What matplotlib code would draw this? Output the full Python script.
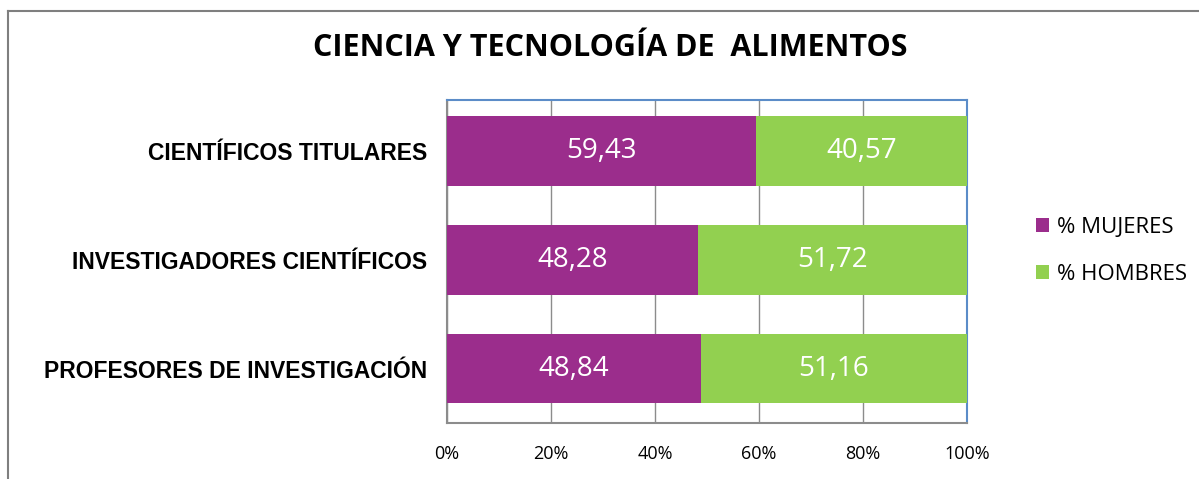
import matplotlib
matplotlib.use("Agg")
import matplotlib.pyplot as plt

categories = ["PROFESORES DE INVESTIGACIÓN", "INVESTIGADORES CIENTÍFICOS", "CIENTÍFICOS TITULARES"]
mujeres = [48.84, 48.28, 59.43]
hombres = [51.16, 51.72, 40.57]
series_names = ["% MUJERES", "% HOMBRES"]
xticks = [0, 20, 40, 60, 80, 100]
xtick_labels = ["0%", "20%", "40%", "60%", "80%", "100%"]
title = "CIENCIA Y TECNOLOGÍA DE  ALIMENTOS"

c_muj = "#9B2D8C"
c_hom = "#92D050"

fig = plt.figure(figsize=(11.99, 4.79), dpi=100)
ax = fig.add_axes([447/1199, 1-423/479, (967-447)/1199, (423-100)/479])

y = list(range(len(categories)))
b1 = ax.barh(y, mujeres, height=0.64, color=c_muj, label=series_names[0], zorder=3)
b2 = ax.barh(y, hombres, left=mujeres, height=0.64, color=c_hom, label=series_names[1], zorder=3)

for i in y:
    ax.text(mujeres[i]/2, i, f"{mujeres[i]:.2f}".replace(".", ","), ha="center", va="center",
            color="white", fontsize=20, family="Open Sans", zorder=4)
    ax.text(mujeres[i] + hombres[i]/2, i, f"{hombres[i]:.2f}".replace(".", ","), ha="center", va="center",
            color="white", fontsize=20, family="Open Sans", zorder=4)

ax.set_xlim(0, 100)
ax.set_ylim(-0.5, 2.47)
ax.set_xticks(xticks)
ax.set_xticklabels(xtick_labels, fontsize=13, family="Open Sans")
ax.set_yticks(y)
ax.set_yticklabels(categories, fontsize=16.5, fontweight="bold", family="Liberation Sans")
ax.tick_params(axis="both", length=0)
ax.tick_params(axis="x", pad=16)
ax.tick_params(axis="y", pad=14)
ax.grid(axis="x", color="#8C8C8C", linewidth=1, zorder=0)
for s in ["left", "bottom"]:
    ax.spines[s].set_color("#8C8C8C")
    ax.spines[s].set_linewidth(1.5)
for s in ["top", "right"]:
    ax.spines[s].set_color("#5B8CC8")
    ax.spines[s].set_linewidth(1.5)

leg = fig.legend(handles=[b1, b2], labels=series_names, loc="center left",
                 bbox_to_anchor=(1016/1199, 1-251/479), frameon=False,
                 prop={"family": "Open Sans", "size": 16}, handlelength=0.6, handleheight=0.6,
                 handletextpad=0.35, labelspacing=1.15)

fig.text(610/1199, 1-48/479, title, ha="center", va="center", fontsize=22,
         fontweight="bold", family="Open Sans")

# outer frame (left and top edges visible)
fig.add_artist(plt.Line2D([8/1199, 8/1199], [0, 1-11/479], transform=fig.transFigure, color="#7F7F7F", linewidth=1.5))
fig.add_artist(plt.Line2D([8/1199, 1], [1-11/479, 1-11/479], transform=fig.transFigure, color="#7F7F7F", linewidth=1.5))

fig.savefig("out.png", dpi=100)
